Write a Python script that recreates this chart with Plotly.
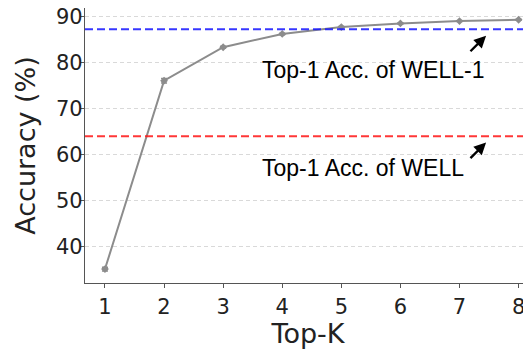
import plotly.graph_objects as go

top_k = [1, 2, 3, 4, 5, 6, 7, 8]
accuracy = [35.0, 76.1, 83.4, 86.3, 87.8, 88.6, 89.1, 89.4]
acc_err = [0.4, 0.5, 0.2, 0.15, 0.1, 0.1, 0.1, 0.1]
well1_acc = 87.3
well_acc = 64.0
y_ticks = [40, 50, 60, 70, 80, 90]

fig = go.Figure()
fig.add_trace(go.Scatter(
    x=top_k, y=accuracy, mode="lines+markers",
    line=dict(color="#8c8c8c", width=2),
    marker=dict(symbol="diamond", size=6, color="#8c8c8c"),
    error_y=dict(type="data", array=acc_err, color="#8c8c8c", thickness=1.5, width=3),
    showlegend=False,
))

fig.add_hline(y=well1_acc, line=dict(color="rgba(20,20,255,0.85)", width=2, dash="8px,4px"))
fig.add_hline(y=well_acc, line=dict(color="rgba(255,20,20,0.85)", width=2, dash="8px,4px"))

ann_font = dict(family="Liberation Sans, Arial, sans-serif", size=23, color="black")
fig.add_annotation(x=3.63, y=78.5, text="Top-1 Acc. of WELL-1", showarrow=False,
                   xanchor="left", yanchor="middle", font=ann_font)
fig.add_annotation(x=3.63, y=57.0, text="Top-1 Acc. of WELL", showarrow=False,
                   xanchor="left", yanchor="middle", font=ann_font)
fig.add_annotation(x=7.45, y=85.9, ax=7.16, ay=82.2, xref="x", yref="y",
                   axref="x", ayref="y", text="", showarrow=True, arrowhead=2, arrowsize=1,
                   arrowwidth=2.4, arrowcolor="black")
fig.add_annotation(x=7.45, y=62.6, ax=7.16, ay=58.9, xref="x", yref="y",
                   axref="x", ayref="y", text="", showarrow=True, arrowhead=2, arrowsize=1,
                   arrowwidth=2.4, arrowcolor="black")

tick_font = dict(family="DejaVu Sans, sans-serif", size=21, color="#222")
title_font = dict(family="DejaVu Sans, sans-serif", size=27, color="#222")

fig.update_xaxes(
    range=[0.662, 8.21], tickvals=top_k, ticks="outside", ticklen=4, tickcolor="#555",
    showline=True, linecolor="#555", linewidth=1.3, mirror=True, showgrid=False, zeroline=False,
    tickfont=tick_font, title=dict(text="Top-K", font=title_font, standoff=3), automargin=False,
    ticklabelstandoff=1, ticklabeloverflow="allow",
)
fig.update_yaxes(
    range=[31.96, 91.96], tickvals=y_ticks, ticks="outside", ticklen=4, tickcolor="#555",
    showline=True, linecolor="#555", linewidth=1.3, mirror=False,
    showgrid=True, gridcolor="#d9d9d9", griddash="4px,3px", gridwidth=1, zeroline=False,
    tickfont=tick_font, title=dict(text="Accuracy (%)", font=title_font, standoff=12), automargin=False,
    ticklabelstandoff=-7, ticklabeloverflow="allow",
)

fig.update_layout(
    width=523, height=341, margin=dict(l=77, r=0, t=0, b=66),
    plot_bgcolor="white", paper_bgcolor="white",
)
fig.write_html("out.html")
